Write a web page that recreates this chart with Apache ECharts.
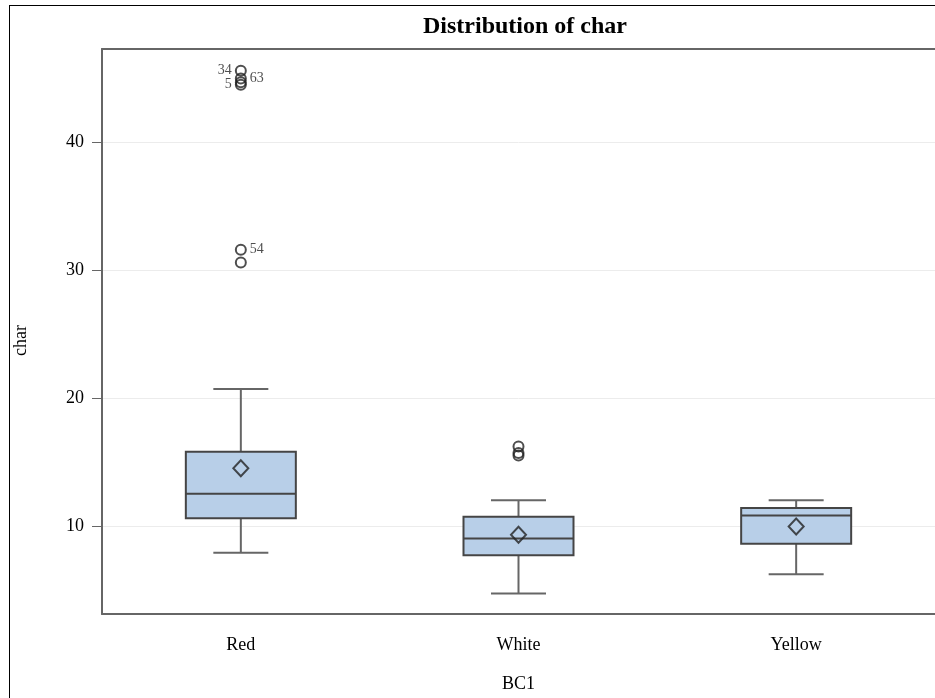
<!DOCTYPE html>
<html>
<head>
<meta charset="utf-8">
<script src="https://cdn.jsdelivr.net/npm/echarts@6/dist/echarts.min.js"></script>
<style>
html,body{margin:0;padding:0;background:#fff;}
#frame{position:absolute;left:9px;top:5px;width:940px;height:700px;border-left:1px solid #000;border-top:1px solid #000;}
#chart{position:absolute;left:0;top:0;width:935px;height:698px;}
</style>
</head>
<body>
<div id="frame"></div>
<div id="chart"></div>
<script>
const categories = ['Red', 'White', 'Yellow'];
// [lower whisker, Q1, median, Q3, upper whisker]
const boxValues = [
  [7.9, 10.6, 12.5, 15.8, 20.7],
  [4.7, 7.7, 9.0, 10.7, 12.0],
  [6.2, 8.6, 10.8, 11.4, 12.0]
];
const means = [14.5, 9.3, 9.95];
// outliers: [category index, value, label, label side]
const outliers = [
  [0, 45.6, '34', 'left'],
  [0, 45.0, '63', 'right'],
  [0, 44.5, '5', 'left'],
  [0, 44.7, '', 'right'],
  [0, 31.6, '54', 'right'],
  [0, 30.6, '', 'right'],
  [1, 16.2, '', 'right'],
  [1, 15.7, '', 'right'],
  [1, 15.5, '', 'right']
];
const yTicks = [10, 20, 30, 40];

const font = "'Liberation Serif', 'Times New Roman', serif";

function renderBox(params, api) {
  const idx = api.value(0);
  const lo = api.coord([idx, api.value(1)]);
  const q1 = api.coord([idx, api.value(2)]);
  const med = api.coord([idx, api.value(3)]);
  const q3 = api.coord([idx, api.value(4)]);
  const hi = api.coord([idx, api.value(5)]);
  const x = lo[0];
  const hw = 55, cw = 27.5;
  const whisk = {stroke: '#666', lineWidth: 2};
  const edge = {stroke: '#454545', lineWidth: 2};
  return {
    type: 'group',
    children: [
      {type: 'line', shape: {x1: x, y1: q3[1], x2: x, y2: hi[1]}, style: whisk},
      {type: 'line', shape: {x1: x, y1: q1[1], x2: x, y2: lo[1]}, style: whisk},
      {type: 'line', shape: {x1: x - cw, y1: hi[1], x2: x + cw, y2: hi[1]}, style: whisk},
      {type: 'line', shape: {x1: x - cw, y1: lo[1], x2: x + cw, y2: lo[1]}, style: whisk},
      {type: 'rect', shape: {x: x - hw, y: q3[1], width: 2 * hw, height: q1[1] - q3[1]},
        style: {fill: '#b8cfe8', stroke: '#454545', lineWidth: 2}},
      {type: 'line', shape: {x1: x - hw, y1: med[1], x2: x + hw, y2: med[1]}, style: edge}
    ]
  };
}

const chart = echarts.init(document.getElementById('chart'), null, {renderer: 'canvas'});
chart.setOption({
  animation: false,
  title: {
    text: 'Distribution of char',
    left: 520, top: 10, textAlign: 'center',
    textStyle: {fontFamily: font, fontSize: 24, fontWeight: 'bold', color: '#000'}
  },
  grid: {left: 102, right: 0, top: 49, bottom: 84},
  xAxis: [{
    type: 'category',
    data: categories,
    name: 'BC1',
    nameLocation: 'middle',
    nameGap: 61,
    nameTextStyle: {fontFamily: font, fontSize: 18, color: '#000'},
    axisLine: {lineStyle: {color: '#666', width: 2}},
    axisTick: {alignWithLabel: true, length: 7, lineStyle: {color: '#666', width: 1}},
    axisLabel: {fontFamily: font, fontSize: 18, color: '#000', margin: 22},
    splitLine: {show: false}
  }, {
    type: 'category',
    data: categories,
    position: 'top',
    axisLine: {show: true, lineStyle: {color: '#666', width: 2}},
    axisTick: {show: false},
    axisLabel: {show: false},
    splitLine: {show: false}
  }],
  yAxis: {
    type: 'value',
    min: 3.1,
    max: 47.3,
    name: 'char',
    nameLocation: 'middle',
    nameGap: 72,
    nameTextStyle: {fontFamily: font, fontSize: 18, color: '#000', padding: [0, 18, 0, 0]},
    axisLine: {show: true, lineStyle: {color: '#666', width: 2}},
    axisTick: {show: true, length: 10, customValues: yTicks, lineStyle: {color: '#666', width: 1}},
    axisLabel: {fontFamily: font, fontSize: 18, color: '#000', margin: 18, customValues: yTicks},
    splitLine: {show: true, lineStyle: {color: '#ececec', width: 1}}
  },
  series: [
    {
      type: 'custom',
      renderItem: renderBox,
      data: boxValues.map((b, i) => [i].concat(b)),
      encode: {x: 0, y: [1, 2, 3, 4, 5]},
      z: 2
    },
    {
      type: 'scatter',
      data: means.map((v, i) => [i, v]),
      symbol: 'diamond',
      symbolSize: [15, 16],
      itemStyle: {color: 'rgba(0,0,0,0)', borderColor: '#222', borderWidth: 2},
      z: 5
    },
    {
      type: 'scatter',
      data: outliers.map(o => ({
        value: [o[0], o[1]],
        label: {show: o[2] !== '', formatter: o[2], position: o[3], distance: 3}
      })),
      symbol: 'circle',
      symbolSize: 10,
      itemStyle: {color: 'rgba(0,0,0,0)', borderColor: '#222', borderWidth: 2},
      label: {fontFamily: font, fontSize: 14, color: '#222'},
      z: 5
    }
  ]
});
</script>
</body>
</html>
